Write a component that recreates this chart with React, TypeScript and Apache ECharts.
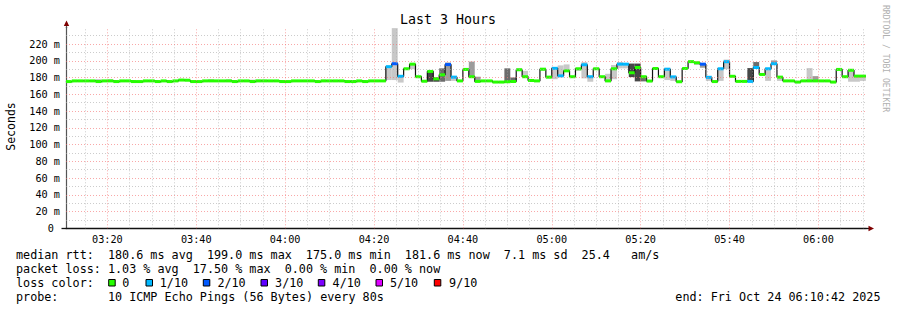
import React, { useEffect, useRef } from 'react';
import * as echarts from 'echarts';

// ---------- data ----------
const TITLE = 'Last 3 Hours';
const windowStartClock = '03:10:42';
const windowEndClock = '06:10:42';
const firstStepClock = '03:10:40';
const STEP_SECONDS = 80;

const xTickLabels = ['03:20', '03:40', '04:00', '04:20', '04:40', '05:00', '05:20', '05:40', '06:00'];

// median RTT per 80 s step (ms)
const medianMs = [
  175.2, 176, 176, 176, 176, 175.2, 176, 176, 175.2, 176,
  176, 175.2, 175.2, 176, 176, 175.2, 176, 175.2, 176, 177,
  176.8, 175.2, 175.2, 176, 176, 176, 176, 176, 175.2, 176,
  176, 175.2, 176, 176, 176, 176, 175.2, 175.2, 176, 176,
  176, 176, 175.2, 176, 176, 176, 176, 175.2, 175.2, 176,
  175.2, 176, 176, 176, 193, 196.5, 181.5, 190.5, 196, 181,
  175.6, 187.3, 178.5, 183.3, 195.5, 180.5, 176, 189.7, 181, 175.4,
  176, 176, 174.6, 174.6, 175, 175.4, 189.3, 181, 176.5, 176,
  190, 180.5, 191, 182, 188, 181, 190.5, 195.3, 181, 190.5,
  181, 176, 190.5, 196, 196, 185.7, 192, 181, 175.8, 190.8,
  181, 190, 180.8, 175, 190.8, 199, 197.7, 196, 180.3, 175.2,
  190.5, 198.9, 181.5, 175.4, 175.4, 175.4, 192, 183.7, 190.5, 196.5,
  180.5, 176, 176, 174.6, 176, 176, 176, 176, 176, 174.6,
  189.7, 181, 188.7, 181.7, 181.7,
];

// packet loss per step (lost pings out of 10)
const lossTenths = [
  0, 0, 0, 0, 0, 0, 0, 0, 0, 0,
  0, 0, 0, 0, 0, 0, 0, 0, 0, 0,
  0, 0, 0, 0, 0, 0, 0, 0, 0, 0,
  0, 0, 0, 0, 0, 0, 0, 0, 0, 0,
  0, 0, 0, 0, 0, 0, 0, 0, 0, 0,
  0, 0, 0, 0, 1, 2, 1, 0, 0, 0,
  0, 0, 0, 0, 2, 1, 0, 0, 0, 0,
  0, 0, 0, 0, 0, 0, 0, 0, 0, 0,
  0, 0, 1, 1, 0, 0, 0, 1, 1, 0,
  0, 0, 0, 1, 1, 0, 0, 0, 0, 0,
  0, 1, 1, 0, 0, 0, 0, 2, 1, 0,
  1, 1, 0, 0, 0, 1, 1, 0, 1, 1,
  0, 0, 0, 0, 0, 0, 0, 0, 0, 0,
  0, 0, 0, 0, 0,
];

// smoke (spread of the individual pings) for the steps that show it
const smokeSteps = [5, 7, 19, 20, 21, 24, 27, 31, 32, 33, 43, 48, 54, 55, 56, 57, 58, 61, 62, 63, 64, 65, 67, 68, 69, 74, 75, 76, 77, 80, 81, 82, 83, 84, 86, 87, 88, 91, 92, 93, 94, 95, 96, 97, 101, 102, 106, 107, 108, 110, 111, 115, 116, 118, 119, 120, 125, 126, 132, 133, 134];
const smokeLowMs = [176, 176, 176, 176, 175, 176, 176, 175, 175, 175, 176, 175, 177, 177, 174, 189, 190, 175, 175, 175, 176, 176, 189, 181, 175, 175, 175, 188, 181, 188, 179, 178, 182, 188, 188, 179, 175, 176, 178, 191, 191, 180.5, 175.4, 175.4, 177, 176, 195, 191.7, 176, 176, 190, 175.4, 191, 176, 195, 176, 176, 176, 175, 175, 176];
const smokeHighMs = [177.5, 178, 178, 178, 177, 177.5, 178, 177.5, 177.5, 177.5, 177.5, 177, 193, 239, 182, 191.5, 196, 188, 180, 191, 198, 181, 191, 199, 181, 191, 180, 191, 188, 191, 181, 192.5, 194.5, 195.7, 191.5, 198.5, 181, 184.5, 195, 198.5, 197, 196.7, 196.7, 181, 190, 181, 198.5, 196, 180.5, 190.5, 201.5, 191.3, 198.5, 190.5, 200.5, 180.5, 191.3, 181.7, 188.7, 181.7, 182];
const smokeShade = [2, 0, 0, 0, 0, 2, 0, 0, 0, 0, 0, 2, 0, 0, 0, 0, 0, 3, 3, 2, 1, 0, 0, 1, 1, 2, 2, 0, 0, 0, 0, 0, 0, 0, 0, 0, 0, 0, 0, 0, 0, 3, 3, 2, 0, 0, 0, 1, 0, 0, 0, 3, 2, 0, 1, 0, 0, 1, 0, 0, 0];

const lossLegendLabels = ['0', '1/10', '2/10', '3/10', '4/10', '5/10', '9/10'];
const lossLegendColors = ['#26ff00', '#00b8ff', '#0059ff', '#5e00ff', '#7e00ff', '#dd00ff', '#ff0000'];
const lossColorByTenths: Record<number, string> = { 0: '#26ff00', 1: '#00b8ff', 2: '#0059ff', 3: '#5e00ff', 4: '#7e00ff', 5: '#dd00ff', 9: '#ff0000' };

const medianStats = ['median rtt:', '180.6 ms avg', '199.0 ms max', '175.0 ms min', '181.6 ms now', '7.1 ms sd', '25.4', 'am/s'];
const lossStats = ['packet loss:', '1.03 % avg', '17.50 % max', '0.00 % min', '0.00 % now'];
const probeText = ['probe:', '10 ICMP Echo Pings (56 Bytes) every 80s'];
const endText = 'end: Fri Oct 24 06:10:42 2025';

// ---------- layout / style ----------
const SHADES = ['#c8c8c8', '#9c9c9c', '#6c6c6c', '#474747'];
const MONO = "'DejaVu Sans Mono', monospace";
const CH = 7.07;
const LX = 16;
const row1Cols = [0, 13, 27, 41, 55, 69, 80, 87];
const row2Cols = [0, 13, 25, 38, 50];
const lossBoxX = [108.7, 146, 203.3, 261, 318.3, 376, 434.3];
const lossLabelX = [122.3, 159.8, 217.4, 275.1, 332.6, 389.9, 449.1];

const toMin = (s: string) => {
  const [h, m, sec] = s.split(':').map(Number);
  return h * 60 + m + (sec || 0) / 60;
};
const fmtClock = (v: number) => {
  const t = Math.round(v);
  const h = Math.floor(t / 60);
  const m = t % 60;
  return `${String(h).padStart(2, '0')}:${String(m).padStart(2, '0')}`;
};

export default function App() {
  const ref = useRef<HTMLDivElement>(null);

  useEffect(() => {
    if (!ref.current) return;
    const chart = echarts.init(ref.current, null, { renderer: 'svg' });

    const xMin = toMin(windowStartClock);
    const xMax = toMin(windowEndClock);
    const first = toMin(firstStepClock);
    const stepMin = STEP_SECONDS / 60;
    const stepStart = (k: number) => first + k * stepMin;

    const medianLineData: number[][] = medianMs.map((v, k) => [stepStart(k), v]);
    medianLineData.push([stepStart(medianMs.length), medianMs[medianMs.length - 1]]);

    const medianSegData = medianMs.map((v, k) => [stepStart(k), stepStart(k + 1), v, lossTenths[k]]);
    const smokeData = smokeSteps.map((k, i) => [stepStart(k), stepStart(k + 1), smokeLowMs[i], smokeHighMs[i], smokeShade[i]]);

    const majorX = xTickLabels.map(toMin);
    const minorX: number[] = [];
    for (let v = Math.ceil(xMin / 5) * 5; v <= xMax; v += 5) {
      if (v % 20 !== 0) minorX.push(v);
    }
    const majorY: number[] = [];
    const minorY: number[] = [];
    for (let v = 10; v < 240; v += 10) {
      if (v % 20 === 0) majorY.push(v);
      else minorY.push(v);
    }
    const minorStyle = { color: 'rgba(170,170,170,0.6)', type: [1, 2] as any, width: 1 };
    const majorStyle = { color: 'rgba(245,110,110,0.6)', type: [1, 2] as any, width: 1 };
    const gridLines = [
      ...minorY.map((v) => ({ yAxis: v, lineStyle: minorStyle })),
      ...minorX.map((v) => ({ xAxis: v, lineStyle: minorStyle })),
      ...majorY.map((v) => ({ yAxis: v, lineStyle: majorStyle })),
      ...majorX.map((v) => ({ xAxis: v, lineStyle: majorStyle })),
    ];

    const clip = (r: any, params: any) =>
      echarts.graphic.clipRectByRect(r, {
        x: params.coordSys.x,
        y: params.coordSys.y,
        width: params.coordSys.width,
        height: params.coordSys.height,
      });

    const textEl = (text: string, x: number, y: number, extra: any = {}) => ({
      type: 'text',
      x,
      y,
      silent: true,
      style: {
        text,
        fontSize: 11.75,
        fontFamily: MONO,
        fill: '#000',
        align: 'left',
        textAlign: 'left',
        verticalAlign: 'middle',
        textVerticalAlign: 'middle',
        ...extra,
      },
    });

    const graphic: any[] = [];
    graphic.push(textEl(TITLE, 448, 19.5, { fontSize: 13.3, align: 'center', textAlign: 'center' }));
    graphic.push({ ...textEl('Seconds', 11, 126.5, { fontSize: 11.5, align: 'center', textAlign: 'center' }), rotation: Math.PI / 2 });
    graphic.push({ ...textEl('RRDTOOL / TOBI OETIKER', 885.5, 58.5, { fontSize: 8.1, fill: '#b0b0b0', align: 'center', textAlign: 'center' }), rotation: -Math.PI / 2 });
    medianStats.forEach((t, i) => graphic.push(textEl(t, LX + row1Cols[i] * CH, 254.6)));
    lossStats.forEach((t, i) => graphic.push(textEl(t, LX + row2Cols[i] * CH, 268.8)));
    graphic.push(textEl('loss color:', LX, 283));
    lossLegendLabels.forEach((t, i) => {
      graphic.push({
        type: 'rect',
        silent: true,
        shape: { x: lossBoxX[i], y: 279.5, width: 6.5, height: 6.5 },
        style: { fill: lossLegendColors[i], stroke: '#000', lineWidth: 1 },
      });
      graphic.push(textEl(t, lossLabelX[i], 283));
    });
    graphic.push(textEl(probeText[0], LX, 297.2));
    graphic.push(textEl(probeText[1], LX + 13 * CH, 297.2));
    graphic.push(textEl(endText, 880.5, 297.2, { align: 'right', textAlign: 'right' }));
    // axis decorations (arrows and x-axis stub to the left)
    graphic.push({ type: 'line', silent: true, shape: { x1: 61.5, y1: 228.5, x2: 66.5, y2: 228.5 }, style: { stroke: '#111', lineWidth: 1.3 } });
    graphic.push({ type: 'line', silent: true, shape: { x1: 866, y1: 228.5, x2: 869, y2: 228.5 }, style: { stroke: '#111', lineWidth: 1.3 } });
    graphic.push({ type: 'line', silent: true, shape: { x1: 66.5, y1: 27.5, x2: 66.5, y2: 24 }, style: { stroke: '#555', lineWidth: 1.2 } });
    graphic.push({ type: 'polygon', silent: true, shape: { points: [[66.5, 20.5], [63.8, 26], [69.2, 26]] }, style: { fill: '#7f0000' } });
    graphic.push({ type: 'polygon', silent: true, shape: { points: [[874, 228.5], [868.5, 225.8], [868.5, 231.2]] }, style: { fill: '#7f0000' } });

    const option: any = {
      animation: false,
      backgroundColor: '#ffffff',
      grid: { left: 66, right: 31, top: 27.3, bottom: 81.7, containLabel: false, outerBoundsMode: 'none' },
      xAxis: {
        type: 'value',
        min: xMin,
        max: xMax,
        axisLine: { show: true, lineStyle: { color: '#111', width: 1.3 } },
        axisTick: { show: false },
        splitLine: { show: false },
        axisLabel: {
          customValues: majorX,
          formatter: (v: number) => fmtClock(v),
          fontFamily: MONO,
          fontSize: 10.2,
          color: '#000',
          margin: 6,
          showMinLabel: true,
          showMaxLabel: true,
        },
      },
      yAxis: {
        type: 'value',
        min: 0,
        max: 240,
        interval: 20,
        axisLine: { show: true, lineStyle: { color: '#555', width: 1.2 } },
        axisTick: { show: false },
        splitLine: { show: false },
        axisLabel: {
          showMaxLabel: false,
          formatter: (v: number) => (v === 0 ? '{z|0}' : v >= 240 ? '' : `${v} m`),
          fontFamily: MONO,
          fontSize: 10.2,
          color: '#000',
          margin: 6,
          rich: { z: { fontFamily: MONO, fontSize: 10.2, color: '#000', padding: [0, 6, 0, 0] } },
        },
      },
      graphic,
      series: [
        {
          type: 'line',
          name: 'grid',
          z: 1,
          silent: true,
          data: [[xMin, 0]],
          symbol: 'none',
          lineStyle: { opacity: 0 },
          markLine: { silent: true, symbol: ['none', 'none'], label: { show: false }, animation: false, data: gridLines },
        },
        {
          type: 'custom',
          name: 'smoke',
          z: 2,
          silent: true,
          data: smokeData,
          encode: { x: [0, 1], y: [2, 3] },
          renderItem: (params: any, api: any) => {
            const a = api.coord([api.value(0), api.value(3)]);
            const b = api.coord([api.value(1), api.value(2)]);
            const r = clip({ x: a[0], y: a[1], width: b[0] - a[0], height: Math.max(1, b[1] - a[1]) }, params);
            return r ? { type: 'rect', shape: r, style: { fill: SHADES[api.value(4)] } } : null;
          },
        },
        {
          type: 'line',
          name: 'median',
          z: 3,
          silent: true,
          step: 'end',
          data: medianLineData,
          symbol: 'none',
          lineStyle: { color: '#111', width: 1.2 },
        },
        {
          type: 'custom',
          name: 'median loss color',
          z: 4,
          silent: true,
          data: medianSegData,
          encode: { x: [0, 1], y: 2 },
          renderItem: (params: any, api: any) => {
            const a = api.coord([api.value(0), api.value(2)]);
            const b = api.coord([api.value(1), api.value(2)]);
            const r = clip({ x: a[0], y: a[1] - 1.5, width: b[0] - a[0], height: 3 }, params);
            const color = lossColorByTenths[api.value(3)] || '#26ff00';
            return r ? { type: 'rect', shape: r, style: { fill: color } } : null;
          },
        },
      ],
    };

    chart.setOption(option);
    return () => chart.dispose();
  }, []);

  return <div ref={ref} style={{ position: 'absolute', left: 0, top: 0, width: 897, height: 310 }} />;
}
